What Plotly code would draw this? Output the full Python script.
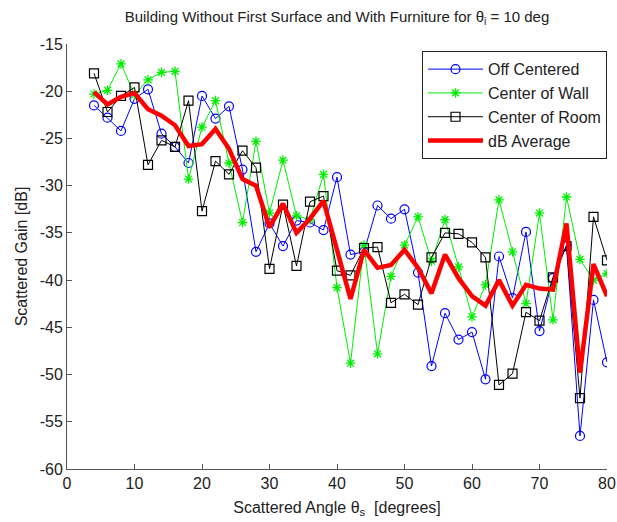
import plotly.graph_objects as go

angles = [4, 6, 8, 10, 12, 14, 16, 18, 20, 22, 24, 26, 28, 30, 32, 34, 36, 38, 40, 42,
          44, 46, 48, 50, 52, 54, 56, 58, 60, 62, 64, 66, 68, 70, 72, 74, 76, 78, 80]

off_centered = [-21.5, -22.8, -24.2, -20.8, -19.8, -24.5, -25.9, -27.6, -20.5, -22.9,
                -21.6, -28.3, -37.0, -34.0, -36.4, -33.7, -33.9, -34.7, -29.1, -37.3,
                -37.0, -32.1, -33.5, -32.5, -39.2, -49.1, -43.5, -46.3, -45.5, -50.5,
                -37.5, -41.9, -34.9, -45.4, -39.8, -36.3, -56.5, -42.1, -48.7]

center_of_wall = [-20.3, -19.9, -17.1, -20.4, -18.8, -18.0, -17.9, -29.3, -23.8, -21.0,
                  -27.6, -33.9, -25.3, -32.9, -27.3, -33.2, -33.6, -28.8, -40.8, -48.8,
                  -36.3, -47.8, -39.6, -36.3, -33.3, -38.0, -33.6, -38.6, -43.9, -40.5,
                  -31.5, -37.0, -42.5, -32.9, -44.2, -31.2, -37.8, -40.0, -39.3]

center_of_room = [-18.1, -22.2, -20.5, -19.6, -27.8, -25.2, -25.9, -21.0, -32.7, -27.4,
                  -28.8, -26.3, -28.1, -38.8, -32.0, -38.5, -31.7, -31.1, -39.0, -39.5,
                  -36.6, -36.5, -42.4, -41.5, -42.6, -37.6, -35.0, -35.1, -36.0, -37.6,
                  -51.1, -49.9, -43.4, -44.3, -39.7, -36.4, -52.5, -33.3, -37.9]

db_average = [-20.1, -21.4, -20.6, -20.2, -21.9, -22.6, -23.6, -25.8, -25.6, -24.0,
              -26.1, -29.3, -30.0, -34.4, -31.9, -35.0, -33.5, -31.6, -36.8, -42.0,
              -36.8, -38.7, -38.4, -36.8, -38.7, -41.4, -37.3, -39.8, -41.7, -42.7,
              -40.0, -42.7, -40.5, -40.9, -41.0, -34.0, -49.8, -38.3, -41.7]

x_ticks = [0, 10, 20, 30, 40, 50, 60, 70, 80]
y_ticks = [-60, -55, -50, -45, -40, -35, -30, -25, -20, -15]

FONT = "Liberation Sans, Arial, sans-serif"

fig = go.Figure()
fig.add_trace(go.Scatter(
    x=angles, y=off_centered, name="Off Centered", mode="lines+markers",
    line=dict(color="#0000ff", width=1),
    marker=dict(symbol="circle-open", size=9, color="#0000ff", line=dict(width=1.2, color="#0000ff")),
))
fig.add_trace(go.Scatter(
    x=angles, y=center_of_wall, name="Center of Wall", mode="lines+markers",
    line=dict(color="#00ee00", width=1),
    marker=dict(symbol="asterisk-open", size=8, color="#00ee00", line=dict(width=1.3, color="#00ee00")),
))
fig.add_trace(go.Scatter(
    x=angles, y=center_of_room, name="Center of Room", mode="lines+markers",
    line=dict(color="#000000", width=1),
    marker=dict(symbol="square-open", size=9, color="#000000", line=dict(width=1.2, color="#000000")),
))
fig.add_trace(go.Scatter(
    x=angles, y=db_average, name="dB Average", mode="lines",
    line=dict(color="#ff0000", width=4.5),
))

fig.update_layout(
    width=617, height=522,
    margin=dict(l=67, r=10, t=44, b=53),
    paper_bgcolor="white", plot_bgcolor="white",
    font=dict(family=FONT, size=15, color="#222222"),
    title=dict(
        text="Building Without First Surface and With Furniture for θ<sub>i</sub> = 10 deg",
        x=(67 + 540 / 2) / 617, xanchor="center", y=1 - 17 / 522, yanchor="middle",
        font=dict(family=FONT, size=15, color="#222222"),
    ),
    showlegend=True,
    legend=dict(
        x=1.0, xanchor="right", y=0.983, yanchor="top",
        bgcolor="white", bordercolor="#222222", borderwidth=1,
        font=dict(family=FONT, size=16, color="#222222"),
        tracegroupgap=0, itemwidth=55,
    ),
)

fig.update_xaxes(
    range=[0, 80], tickvals=x_ticks, ticktext=[str(v) for v in x_ticks],
    showgrid=False, zeroline=False, automargin=False,
    showline=True, linecolor="#555555", linewidth=1,
    ticks="inside", ticklen=5, tickcolor="#555555",
    tickfont=dict(family=FONT, size=16, color="#222222"),
    title=dict(text="Scattered Angle θ<sub>s</sub>  [degrees]", standoff=10,
               font=dict(family=FONT, size=16, color="#222222")),
)
fig.update_yaxes(
    range=[-60, -15], tickvals=y_ticks, ticktext=[str(v) for v in y_ticks],
    showgrid=False, zeroline=False, automargin=False,
    showline=True, linecolor="#555555", linewidth=1,
    ticks="inside", ticklen=5, tickcolor="#555555",
    tickfont=dict(family=FONT, size=16, color="#222222"),
    title=dict(text="Scattered Gain [dB]", standoff=8,
               font=dict(family=FONT, size=16, color="#222222")),
)

fig.write_html("out.html")
